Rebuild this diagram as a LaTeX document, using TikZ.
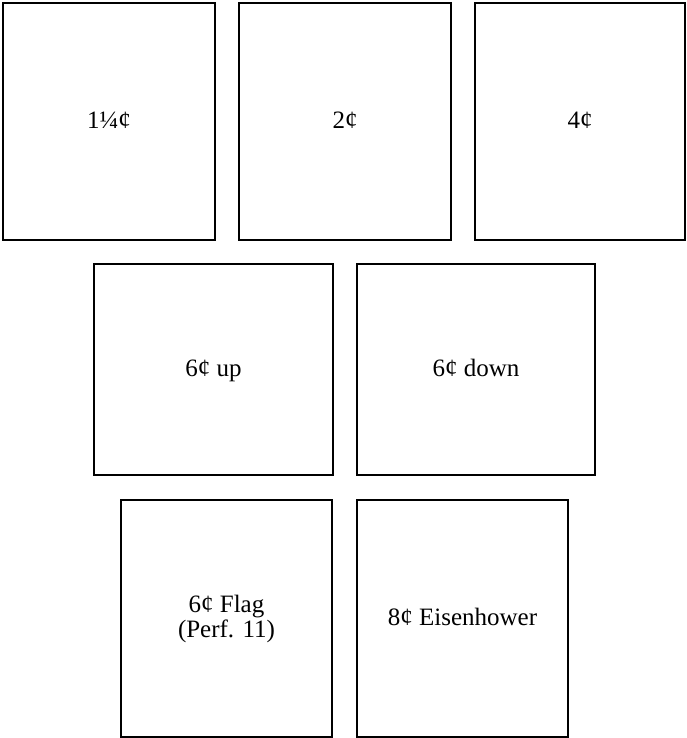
\documentclass[tikz,border=0pt]{standalone}
\usepackage{fontspec}
\setmainfont{Liberation Serif}
\usepackage{tikz}
\tikzset{
  stamp/.style={draw, rectangle, line width=2.2pt, align=center,
                inner sep=0pt, font=\fontsize{25}{25}\selectfont},
  oneline/.style={stamp, text height=1.45em, text depth=0pt},
}

\begin{document}
\begin{tikzpicture}[x=1pt, y=-1pt]
  \useasboundingbox (0,0) rectangle (686,738);
  \node[oneline, minimum width=212pt, minimum height=237pt] (c1) at (109,121.5) {1\textonequarter\textcent};
  \node[oneline, minimum width=212pt, minimum height=237pt] (c2) at (345,121.5) {2\textcent};
  \node[oneline, minimum width=210pt, minimum height=237pt] (c4) at (580,121.5) {4\textcent};
  \node[oneline, minimum width=239pt, minimum height=211pt] (up) at (213.5,369.5) {6\textcent{} up};
  \node[oneline, minimum width=238pt, minimum height=211pt] (dn) at (476,369.5) {6\textcent{} down};
  \node[stamp, minimum width=211pt, minimum height=237pt] (flag) at (226.5,618.5) {6\textcent{} Flag\\(Perf. 11)};
  \node[oneline, minimum width=211pt, minimum height=237pt] (ike) at (462.5,618.5) {8\textcent{} Eisenhower};
\end{tikzpicture}
\end{document}
